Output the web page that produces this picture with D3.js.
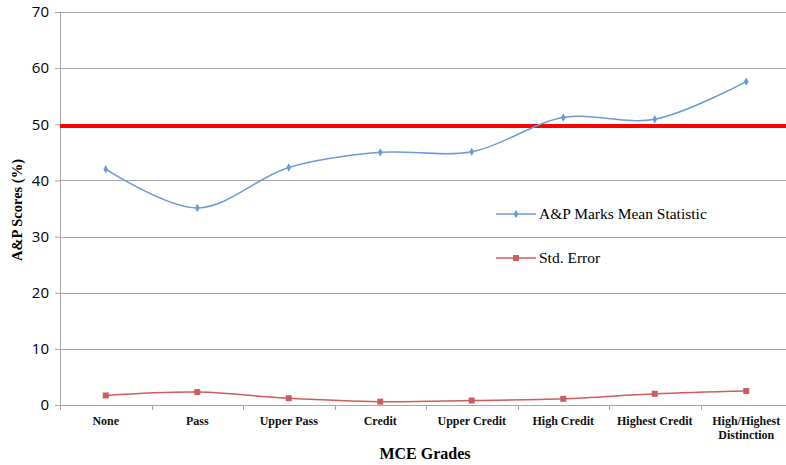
<!DOCTYPE html>
<html>
<head>
  <meta charset="utf-8">
  <title>A&amp;P Scores by MCE Grade</title>
  <script src="https://d3js.org/d3.v7.min.js"></script>
  <style>
    body { margin: 0; background: white; }
  </style>
</head>
<body>
<div id="output"></div>
<script type="text/javascript">

  var categories = ["None", "Pass", "Upper Pass", "Credit", "Upper Credit", "High Credit", "Highest Credit", "High/Highest Distinction"];
  var meanScores = [42.0, 35.1, 42.3, 45.0, 45.1, 51.2, 50.9, 57.6];
  var stdErrors = [1.7, 2.3, 1.2, 0.6, 0.8, 1.1, 2.0, 2.5];
  var yTicks = [0, 10, 20, 30, 40, 50, 60, 70];
  var thresholdValue = 49.7;

  var w = 786, h = 465;
  var margin = {top: 12, right: -6, bottom: 60, left: 60};
  var wChart = w - margin.left - margin.right;
  var hChart = h - margin.top - margin.bottom;

  var x = d3.scaleBand().domain(categories).range([0, wChart]);
  var y = d3.scaleLinear().domain([0, 70]).range([hChart, 0]);

  var svg = d3.select("#output").append("svg")
      .attr("width", w)
      .attr("height", h);

  var chart = svg.append("g")
      .attr("transform", "translate(" + margin.left + "," + margin.top + ")");

  // gridlines
  chart.selectAll(".grid")
      .data(yTicks.filter(function(d){ return d > 0; }))
      .enter().append("line")
      .attr("class", "grid")
      .attr("x1", 0).attr("x2", wChart)
      .attr("y1", function(d){ return Math.round(y(d)) + 0.5; })
      .attr("y2", function(d){ return Math.round(y(d)) + 0.5; })
      .attr("stroke", "#a6a6a6")
      .attr("stroke-width", 1);

  // y axis
  var yAxis = d3.axisLeft(y).tickValues(yTicks).tickSize(5).tickPadding(6);
  var gy = chart.append("g").call(yAxis);
  gy.select(".domain").attr("stroke", "#a6a6a6").attr("d", "M0.5," + hChart + "V0");
  gy.selectAll(".tick line").attr("stroke", "#a6a6a6");
  gy.selectAll(".tick text")
      .attr("font-family", "Open Sans, sans-serif")
      .attr("font-size", "15px")
      .attr("fill", "#000");

  // x axis with ticks at band boundaries
  var gx = chart.append("g").attr("transform", "translate(0," + hChart + ")");
  gx.append("line")
      .attr("x1", 0).attr("x2", wChart)
      .attr("y1", 0.5).attr("y2", 0.5)
      .attr("stroke", "#a6a6a6");
  gx.selectAll(".xtick")
      .data(categories.concat([null]))
      .enter().append("line")
      .attr("x1", function(d, i){ return Math.round(i * x.bandwidth()) + 0.5; })
      .attr("x2", function(d, i){ return Math.round(i * x.bandwidth()) + 0.5; })
      .attr("y1", 0).attr("y2", 5)
      .attr("stroke", "#a6a6a6");

  gx.selectAll(".xlabel")
      .data(categories)
      .enter().append("text")
      .attr("text-anchor", "middle")
      .attr("font-family", "Liberation Serif, Times New Roman, serif")
      .attr("font-weight", "bold")
      .attr("font-size", "12px")
      .attr("fill", "#111")
      .each(function(d){
        var t = d3.select(this);
        var cx = x(d) + x.bandwidth() / 2;
        var lines = d === "High/Highest Distinction" ? ["High/Highest", "Distinction"] : [d];
        lines.forEach(function(s, i){
          t.append("tspan").attr("x", cx).attr("y", 20 + i * 14).text(s);
        });
      });

  // axis titles
  svg.append("text")
      .attr("x", margin.left + 365)
      .attr("y", 459)
      .attr("text-anchor", "middle")
      .attr("font-family", "Liberation Serif, Times New Roman, serif")
      .attr("font-weight", "bold")
      .attr("font-size", "16px")
      .text("MCE Grades");

  svg.append("text")
      .attr("transform", "translate(22," + 210 + ") rotate(-90)")
      .attr("text-anchor", "middle")
      .attr("font-family", "Liberation Serif, Times New Roman, serif")
      .attr("font-weight", "bold")
      .attr("font-size", "14.5px")
      .text("A&P Scores (%)");

  // threshold line
  chart.append("line")
      .attr("x1", 0).attr("x2", wChart)
      .attr("y1", y(thresholdValue)).attr("y2", y(thresholdValue))
      .attr("stroke", "#ff0000")
      .attr("stroke-width", 4);

  var line = d3.line()
      .x(function(d, i){ return x(categories[i]) + x.bandwidth() / 2; })
      .y(function(d){ return y(d); })
      .curve(d3.curveCatmullRom.alpha(0.5));

  var blue = "#6a9ad8", red = "#cf5b5b";

  chart.append("path")
      .datum(meanScores)
      .attr("d", line)
      .attr("fill", "none")
      .attr("stroke", blue)
      .attr("stroke-width", 1.5);

  chart.append("path")
      .datum(stdErrors)
      .attr("d", line)
      .attr("fill", "none")
      .attr("stroke", red)
      .attr("stroke-width", 1.5);

  var diamond = d3.symbol().type(d3.symbolDiamond).size(20);
  chart.selectAll(".meanPt")
      .data(meanScores)
      .enter().append("path")
      .attr("class", "meanPt")
      .attr("d", diamond)
      .attr("transform", function(d, i){ return "translate(" + (x(categories[i]) + x.bandwidth() / 2) + "," + y(d) + ")"; })
      .attr("fill", blue);

  chart.selectAll(".sePt")
      .data(stdErrors)
      .enter().append("rect")
      .attr("class", "sePt")
      .attr("x", function(d, i){ return x(categories[i]) + x.bandwidth() / 2 - 3; })
      .attr("y", function(d){ return y(d) - 3; })
      .attr("width", 6).attr("height", 6)
      .attr("fill", red);

  // legend
  var legend = svg.append("g").attr("transform", "translate(496,214)");
  var items = [{name: "A&P Marks Mean Statistic", color: blue, sq: false},
               {name: "Std. Error", color: red, sq: true}];
  items.forEach(function(it, i){
    var g = legend.append("g").attr("transform", "translate(0," + (i * 44) + ")");
    g.append("line").attr("x1", 0).attr("x2", 40).attr("y1", 0).attr("y2", 0)
        .attr("stroke", it.color).attr("stroke-width", 1.5);
    if (it.sq) {
      g.append("rect").attr("x", 17).attr("y", -3).attr("width", 6).attr("height", 6).attr("fill", it.color);
    } else {
      g.append("path").attr("d", diamond).attr("transform", "translate(20,0)").attr("fill", it.color);
    }
    g.append("text")
        .attr("x", 43).attr("y", 5)
        .attr("font-family", "Liberation Serif, Times New Roman, serif")
        .attr("font-size", "15.5px")
        .text(it.name);
  });

</script>
</body>
</html>
